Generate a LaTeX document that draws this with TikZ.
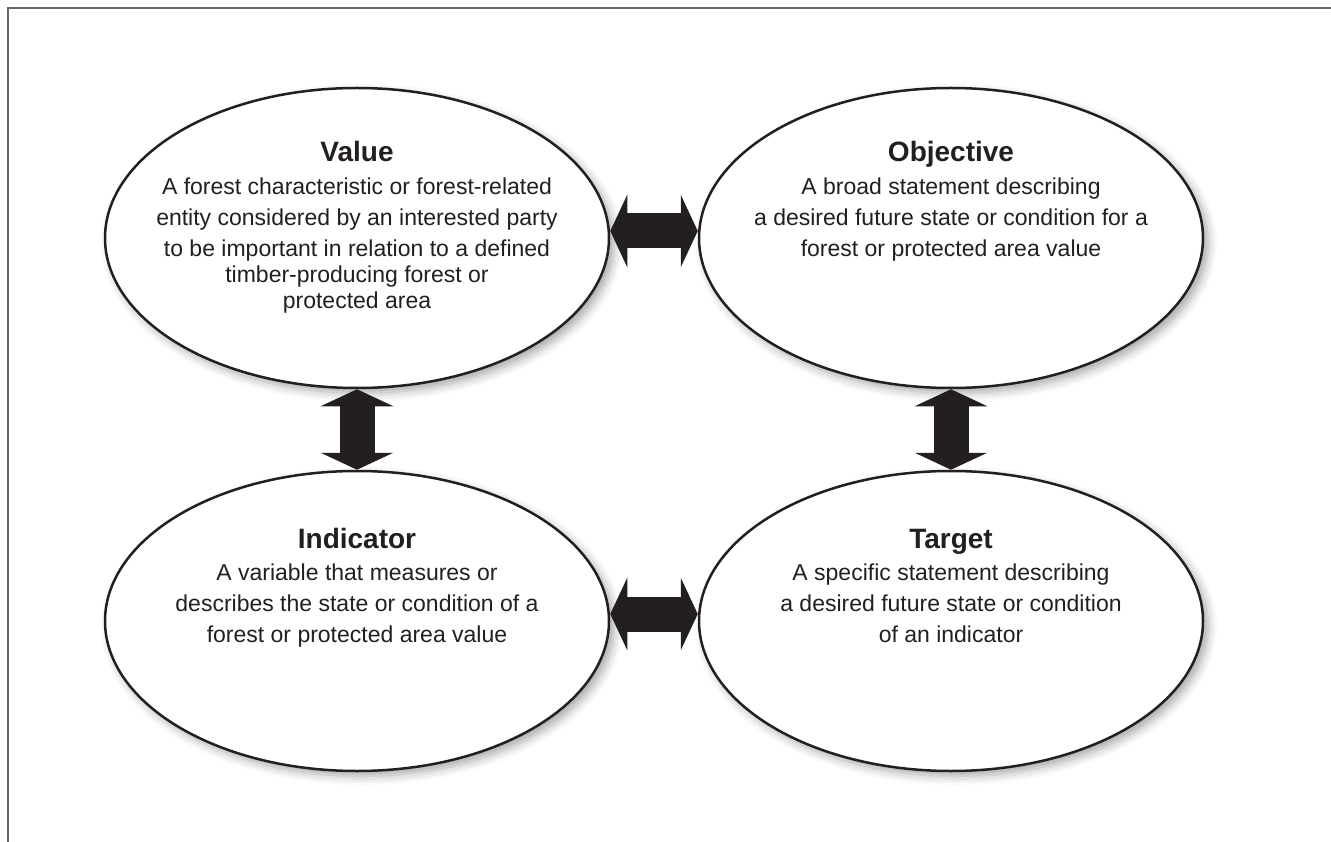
\documentclass[tikz,border=0pt]{standalone}
\usepackage{fontspec}
\setmainfont{Liberation Sans}
\usetikzlibrary{shapes.geometric,arrows.meta,shadows.blur,calc}
\definecolor{ink}{HTML}{231F20}
\definecolor{framegray}{HTML}{666666}
\begin{document}
\begin{tikzpicture}[x=1pt,y=-1pt,
  bubble/.style={ellipse, draw=ink, line width=2.5pt, fill=white,
    minimum width=504pt, minimum height=300pt, inner sep=0pt,
    blur shadow={shadow xshift=5pt, shadow yshift=-5pt, shadow blur radius=9pt, shadow opacity=35}},
  titletext/.style={font=\bfseries\fontsize{28}{32}\selectfont, text=ink, inner sep=0pt, anchor=base},
  bodytext/.style={font=\fontsize{23}{31}\selectfont, align=center, text=ink, inner sep=0pt, anchor=north},
  bigarrow/.style={draw=ink, line width=35pt,
    {Triangle[length=17pt,width=72pt]}-{Triangle[length=17pt,width=72pt]}},
]
\useasboundingbox (0,0) rectangle (1331,842);
\draw[framegray, line width=2pt] (8,842) -- (8,8) -- (1331,8);

\node[bubble] (value) at (357,238) {};
\node[bubble] (objective) at (951,238) {};
\node[bubble] (indicator) at (357,621) {};
\node[bubble] (target) at (951,621) {};

\node[titletext] (valuet) at (357,162) {Value};
\node[bodytext] (valueb) at (357,178) {A forest characteristic or forest-related\\entity considered by an interested party\\to be important in relation to a defined\\[-5pt]timber-producing forest or\\[-5pt]protected area};

\node[titletext] (objectivet) at (951,162) {Objective};
\node[bodytext] (objectiveb) at (951,178) {A broad statement describing\\a desired future state or condition for a\\forest or protected area value};

\node[titletext] (indicatort) at (357,548) {Indicator};
\node[bodytext] (indicatorb) at (357,564) {A variable that measures or\\describes the state or condition of a\\forest or protected area value};

\node[titletext] (targett) at (951,548) {Target};
\node[bodytext] (targetb) at (951,564) {A specific statement describing\\a desired future state or condition\\of an indicator};

\coordinate (vR) at ($(value.east)+(0,-7)$);
\coordinate (oL) at ($(objective.west)+(0,-7)$);
\coordinate (iR) at ($(indicator.east)+(0,-7)$);
\coordinate (tL) at ($(target.west)+(0,-7)$);

\draw[bigarrow] (vR) -- (oL);
\draw[bigarrow] (iR) -- (tL);
\draw[bigarrow] (value.south) -- (indicator.north);
\draw[bigarrow] (objective.south) -- (target.north);
\end{tikzpicture}
\end{document}
